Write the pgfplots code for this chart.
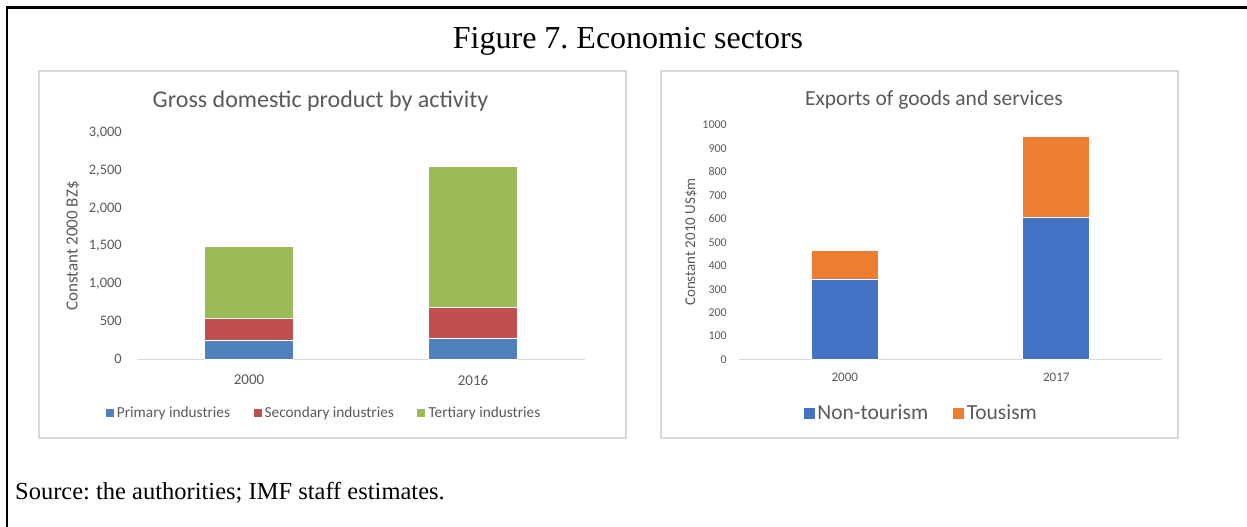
\documentclass[border=0pt]{standalone}
\usepackage{pgfplots}
\pgfplotsset{compat=1.18}
\usepackage{fontspec}
\setmainfont{Liberation Serif}
\newfontfamily\calfont{Carlito}
\definecolor{txtgray}{HTML}{595959}
\definecolor{axgray}{HTML}{D9D9D9}
\definecolor{boxgray}{HTML}{D9D9D9}
\definecolor{cprim}{HTML}{4F81BD}
\definecolor{csec}{HTML}{C0504D}
\definecolor{cter}{HTML}{9BBB59}
\definecolor{cnon}{HTML}{4472C4}
\definecolor{ctour}{HTML}{ED7D31}
\frenchspacing
\begin{document}
\begin{tikzpicture}[x=1pt,y=-1pt]
\path[use as bounding box] (0,0) rectangle (1247,527);
\draw[line width=2.6pt] (7,528) -- (7,7.3) -- (1248,7.3);
\node at (628,41) {\fontsize{32}{38}\selectfont Figure 7. Economic sectors};
\draw[boxgray, line width=1.2pt] (39,71) rectangle (626,438);
\draw[boxgray, line width=1.2pt] (661,71) rectangle (1178,438);
\node[anchor=west, inner sep=0pt] at (15,493) {\fontsize{24.5}{28}\selectfont Source: the authorities; IMF staff estimates.};
% titles and y labels
\node[text=txtgray] at (320.5,101) {\calfont\fontsize{24}{28}\selectfont Gross domestic product by activity};
\node[text=txtgray] at (934,100) {\calfont\fontsize{21.5}{26}\selectfont Exports of goods and services};
\node[text=txtgray, rotate=90] at (73,246) {\calfont\fontsize{17}{20}\selectfont Constant 2000 BZ\$};
\node[text=txtgray, rotate=90] at (691,242) {\calfont\fontsize{15}{18}\selectfont Constant 2010 US\$m};

\begin{axis}[
  at={(137pt,-359pt)}, anchor=south west,
  scale only axis, width=448pt, height=226pt,
  xmin=-0.5, xmax=1.5, ymin=0, ymax=3000,
  ybar stacked, bar width=89pt,
  axis lines=left, axis line style={-},
  y axis line style={draw=none},
  x axis line style={draw=axgray, line width=1pt},
  major tick length=0pt,
  xtick={0,1}, xticklabels={2000,2016},
  ytick={0,500,...,3000},
  /pgf/number format/assume math mode=true,
  /pgf/number format/1000 sep={,},
  yticklabel style={font=\calfont\fontsize{14.5}{16}\selectfont, text=txtgray, anchor=east, inner sep=0pt, xshift=-15pt},
  xticklabel style={font=\calfont\fontsize{15}{17}\selectfont, text=txtgray, anchor=center, inner sep=0pt, yshift=-21pt},
  legend style={at={(0.417,-0.239)}, anchor=center, draw=none, fill=none,
    font=\calfont\fontsize{15.3}{18}\selectfont, text=txtgray,
    legend columns=3, inner sep=0pt,
    nodes={inner sep=2.5pt},
    /tikz/every even column/.append style={column sep=20pt}},
  legend image code/.code={\fill[#1] (0pt,-4.5pt) rectangle (9pt,4.5pt);},
  every axis plot/.append style={draw=white, line width=0.6pt},
]
\addplot[fill=cprim] coordinates {(0,253) (1,274)};
\addplot[fill=csec] coordinates {(0,284) (1,416)};
\addplot[fill=cter] coordinates {(0,954) (1,1863)};
\legend{Primary industries, Secondary industries, Tertiary industries}
\end{axis}

\begin{axis}[
  at={(739pt,-359.5pt)}, anchor=south west,
  scale only axis, width=423pt, height=234.5pt,
  xmin=-0.5, xmax=1.5, ymin=0, ymax=1000,
  ybar stacked, bar width=67pt,
  axis lines=left, axis line style={-},
  y axis line style={draw=none},
  x axis line style={draw=axgray, line width=1pt},
  major tick length=0pt,
  xtick={0,1}, xticklabels={2000,2017},
  ytick={0,100,...,1000},
  /pgf/number format/assume math mode=true,
  /pgf/number format/1000 sep={},
  yticklabel style={font=\calfont\fontsize{12}{14}\selectfont, text=txtgray, anchor=east, inner sep=0pt, xshift=-12pt},
  xticklabel style={font=\calfont\fontsize{13}{15}\selectfont, text=txtgray, anchor=center, inner sep=0pt, yshift=-18pt},
  legend style={at={(0.43,-0.228)}, anchor=center, draw=none, fill=none,
    font=\calfont\fontsize{21.5}{25}\selectfont, text=txtgray,
    legend columns=2, inner sep=0pt,
    /tikz/every even column/.append style={column sep=22pt}},
  legend image code/.code={\fill[#1] (0pt,-6pt) rectangle (12pt,6pt);},
  every axis plot/.append style={draw=white, line width=0.6pt},
]
\addplot[fill=cnon] coordinates {(0,344) (1,606)};
\addplot[fill=ctour] coordinates {(0,120) (1,345)};
\legend{Non-tourism, Tousism}
\end{axis}
\end{tikzpicture}
\end{document}
